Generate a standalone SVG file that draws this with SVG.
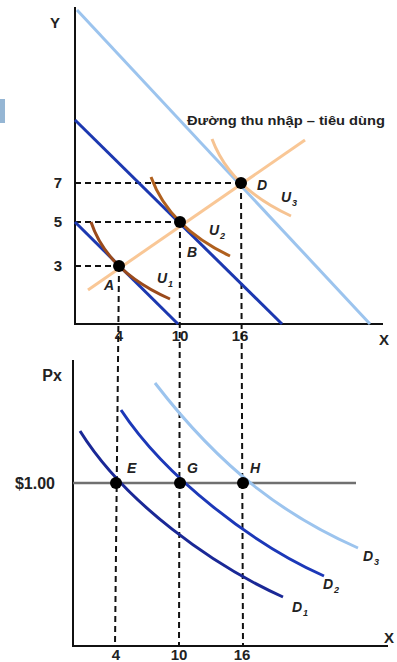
<svg xmlns="http://www.w3.org/2000/svg" width="397" height="662" viewBox="0 0 397 662">
<style>
text{font-family:"Liberation Sans",Arial,sans-serif;font-weight:bold;fill:#222}
.t{font-size:15px;text-anchor:middle}
.big{font-size:16px;text-anchor:middle}
.lab{font-size:14px;font-style:italic}
.sub{font-size:9px;font-style:italic}
.ax{stroke:#111;stroke-width:2;fill:none}
.dash{stroke:#111;stroke-width:2;stroke-dasharray:6,4;fill:none}
.pt{fill:#000}
.dk{stroke:#1c38b0;stroke-width:3;fill:none}
.lt{stroke:#9cc4ee;stroke-width:3;fill:none}
</style>
<rect x="0" y="99" width="5" height="24" fill="#95b6d4"/>
<g id="top-axes">
<line class="ax" x1="75" y1="7" x2="75" y2="324"/>
<line class="ax" x1="74" y1="324" x2="383" y2="324"/>
<text x="55" y="28" class="t">Y</text>
<text x="384" y="345" class="t">X</text>
<text x="58" y="188" class="t">7</text>
<text x="58" y="227" class="t">5</text>
<text x="58" y="271" class="t">3</text>
<text x="119" y="341" class="t">4</text>
<text x="180" y="341" class="t">10</text>
<text x="240" y="341" class="t">16</text>
</g>
<g id="connectors">
<line class="dash" x1="75" y1="183" x2="241" y2="183"/>
<line class="dash" x1="75" y1="222" x2="180" y2="222"/>
<line class="dash" x1="75" y1="266" x2="119" y2="266"/>
<line class="dash" x1="119" y1="266" x2="115" y2="646"/>
<line class="dash" x1="180" y1="222" x2="179" y2="646"/>
<line class="dash" x1="241" y1="183" x2="243" y2="646"/>
</g>
<g id="budget-lines">
<line class="lt" x1="77" y1="10" x2="370" y2="324"/>
<line class="dk" x1="75" y1="120" x2="282" y2="324"/>
<line class="dk" x1="75" y1="222" x2="178" y2="324"/>
</g>
<g id="icc">
<line x1="88" y1="290" x2="305" y2="140" stroke="#f9c796" stroke-width="3"/>
<text x="187" y="125" font-size="12.5" textLength="198" lengthAdjust="spacingAndGlyphs">Đường thu nhập – tiêu dùng</text>
</g>
<g id="U1">
<path d="M91,222 Q107.5,271.5 170,299" stroke="#9a4a1c" stroke-width="3" fill="none"/>
<text x="157" y="283" class="lab">U</text><text x="168" y="287" class="sub">1</text>
</g>
<g id="U2">
<path d="M151,177 Q169.5,227.5 230,256" stroke="#b0601e" stroke-width="3" fill="none"/>
<text x="209" y="235" class="lab">U</text><text x="220" y="239" class="sub">2</text>
</g>
<g id="U3">
<path d="M212,139 Q230.5,188.5 291,216" stroke="#f6c392" stroke-width="3" fill="none"/>
<text x="281" y="202" class="lab">U</text><text x="292" y="206" class="sub">3</text>
</g>
<g id="A"><circle class="pt" cx="119" cy="266" r="6"/><text x="104" y="290" class="lab">A</text></g>
<g id="B"><circle class="pt" cx="180" cy="222" r="6"/><text x="187" y="257" class="lab">B</text></g>
<g id="D"><circle class="pt" cx="241" cy="183" r="6"/><text x="257" y="190" class="lab">D</text></g>
<g id="bottom-axes">
<line class="ax" x1="73" y1="360" x2="73" y2="647"/>
<line class="ax" x1="72" y1="646" x2="388" y2="646"/>
<text x="389" y="643" class="t">X</text>
<text x="52" y="381" class="big">Px</text>
<text x="35" y="489" class="big">$1.00</text>
<text x="116" y="660" class="t">4</text>
<text x="179" y="660" class="t">10</text>
<text x="242" y="660" class="t">16</text>
</g>
<g id="price-line"><line x1="73" y1="483" x2="356" y2="483" stroke="#707070" stroke-width="2.5"/></g>
<g id="D1">
<path d="M80,431 C125,503 213,565.5 283,597" stroke="#1a2896" stroke-width="3" fill="none"/>
<text x="292" y="612" class="lab">D</text><text x="303" y="616" class="sub">1</text>
</g>
<g id="D2">
<path d="M121,410 C166,478 254,545 324,576" stroke="#1c38b8" stroke-width="3" fill="none"/>
<text x="323" y="589" class="lab">D</text><text x="334" y="593" class="sub">2</text>
</g>
<g id="D3">
<path d="M155,383 C225,474 290,518 358,548" stroke="#9cc4ee" stroke-width="3" fill="none"/>
<text x="363" y="561" class="lab">D</text><text x="374" y="565" class="sub">3</text>
</g>
<g id="E"><circle class="pt" cx="116" cy="483" r="6"/><text x="127" y="473" class="lab">E</text></g>
<g id="G"><circle class="pt" cx="180" cy="483" r="6"/><text x="187" y="473" class="lab">G</text></g>
<g id="H"><circle class="pt" cx="243" cy="483" r="6"/><text x="250" y="473" class="lab">H</text></g>
</svg>
